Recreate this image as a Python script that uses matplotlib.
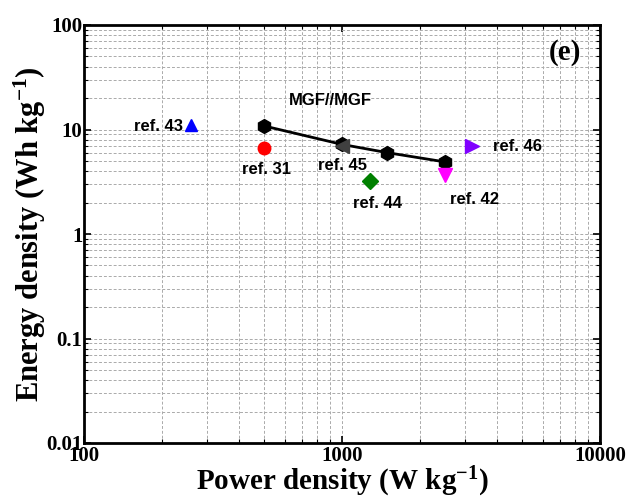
import matplotlib
matplotlib.use("Agg")
import matplotlib.pyplot as plt

# MGF//MGF device
mgf_power = [500, 1000, 1500, 2500]
mgf_energy = [10.8, 7.2, 6.0, 4.9]

# literature points
ref_names = ["ref. 31", "ref. 43", "ref. 45", "ref. 44", "ref. 42", "ref. 46"]
ref_power = [500, 260, 1000, 1285, 2500, 3190]
ref_energy = [6.7, 11.0, 6.9, 3.2, 3.7, 6.9]
ref_markers = ["o", "^", "<", "D", "v", ">"]
ref_colors = ["red", "blue", "#404040", "green", "magenta", "#8000ff"]
ref_sizes = [9, 9, 10, 8, 10, 10]

serif = "Liberation Serif"
sans = "Liberation Sans"

plt.rcParams["mathtext.fontset"] = "custom"
plt.rcParams["mathtext.rm"] = "Liberation Serif:bold"
plt.rcParams["mathtext.bf"] = "Liberation Serif:bold"
plt.rcParams["mathtext.it"] = "Liberation Serif:bold"

fig = plt.figure(figsize=(6.31, 4.99), dpi=100)
ax = fig.add_axes([84 / 631, 1 - 443 / 499, 516 / 631, 418 / 499])

ax.plot(mgf_power, mgf_energy, "-h", color="black", lw=2, ms=10, zorder=3)
for i in range(len(ref_names)):
    ax.plot(ref_power[i], ref_energy[i], marker=ref_markers[i], color=ref_colors[i],
            ms=ref_sizes[i], ls="none", zorder=4)

ax.set_xscale("log")
ax.set_yscale("log")
ax.set_xlim(100, 10000)
ax.set_ylim(0.01, 100)

ax.grid(True, which="both", ls=(0, (3, 2)), color="#aaaaaa", lw=0.7)
ax.tick_params(which="both", direction="in", top=True, right=True)
ax.tick_params(which="major", length=5, width=1.2)
ax.tick_params(which="minor", length=3, width=0.8)
for s in ax.spines.values():
    s.set_linewidth(2)

ax.set_xticks([100, 1000, 10000])
ax.set_xticklabels(["100", "1000", "10000"])
ax.set_yticks([0.01, 0.1, 1, 10, 100])
ax.set_yticklabels(["0.01", "0.1", "1", "10", "100"])
for lab in ax.get_xticklabels() + ax.get_yticklabels():
    lab.set_fontfamily(serif)
    lab.set_fontweight("bold")
    lab.set_fontsize(15)
ax.tick_params(axis="x", pad=2)
ax.tick_params(axis="y", pad=1)

ax.set_xlabel(r"Power density (W kg$^{-1}$)", fontfamily=serif,
              fontweight="bold", fontsize=21, labelpad=-1)
ax.set_ylabel(r"Energy density (Wh kg$^{-1}$)", fontfamily=serif,
              fontweight="bold", fontsize=22, labelpad=-1)

txt = dict(fontfamily=sans, fontweight="bold", fontsize=12, va="center")
ax.text(898, 18.8, "MGF//MGF", ha="center", **txt)
ax.text(242, 10.8, "ref. 43", ha="right", **txt)
ax.text(510, 4.1, "ref. 31", ha="center", **txt)
ax.text(1000, 4.57, "ref. 45", ha="center", **txt)
ax.text(1368, 1.94, "ref. 44", ha="center", **txt)
ax.text(3250, 2.16, "ref. 42", ha="center", **txt)
ax.text(3846, 6.9, "ref. 46", ha="left", **txt)
ax.text(7310, 54, "(e)", ha="center", va="center",
        fontfamily=serif, fontweight="bold", fontsize=21)

fig.savefig("out.png", dpi=100)
